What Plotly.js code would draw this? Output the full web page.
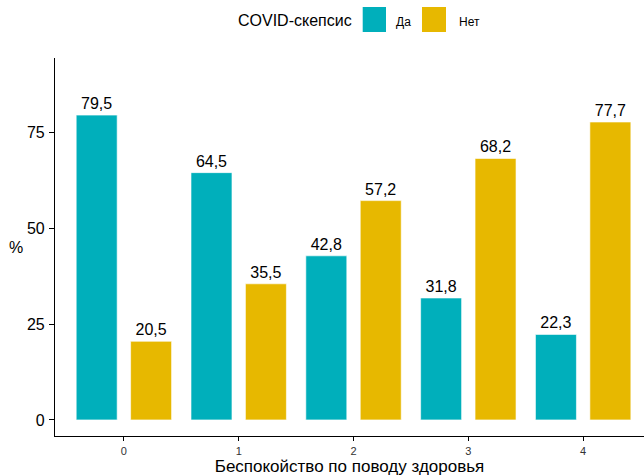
<!DOCTYPE html>
<html>
<head>
<meta charset="utf-8">
<script src="https://cdn.plot.ly/plotly-3.0.1.min.js"></script>
<style>
  html, body { margin: 0; padding: 0; background: #ffffff; }
  #chart { width: 644px; height: 476px; }
</style>
</head>
<body>
<div id="chart"></div>
<script>
// ---- data ----
const categories = [0, 1, 2, 3, 4];
const seriesNames = ["Да", "Нет"];
const valuesDa = [79.5, 64.5, 42.8, 31.8, 22.3];
const valuesNet = [20.5, 35.5, 57.2, 68.2, 77.7];
const seriesColors = ["#00AFBB", "#E7B800"];
const yTickVals = [0, 25, 50, 75];
const legendTitle = "COVID-скепсис";
const xTitle = "Беспокойство по поводу здоровья";
const yTitle = "%";

const W = 644, H = 476;
const M = { l: 55, r: 0, t: 58, b: 40 };
const pw = W - M.l - M.r, ph = H - M.t - M.b;
const px2x = (px) => (px - M.l) / pw;
const py2y = (py) => 1 - (py - M.t) / ph;

const fontFam = "Liberation Sans, Arial, sans-serif";
const seriesValues = [valuesDa, valuesNet];

const traces = seriesNames.map((name, i) => ({
  type: "bar",
  name: name,
  x: categories,
  y: seriesValues[i],
  marker: { color: seriesColors[i], line: { color: "#ffffff", width: 0.6 } },
  texttemplate: "%{y:.1f}",
  textposition: "outside",
  textfont: { family: fontFam, size: 16, color: "#000000" },
  cliponaxis: false,
  hoverinfo: "x+y+name",
  showlegend: false
}));

// manual legend (keys sized like the reference)
const keyBoxes = [[362.7, 386], [422, 446]];
const keyTextX = [394, 457];
const shapes = seriesNames.map((n, i) => ({
  type: "rect", xref: "paper", yref: "paper",
  x0: px2x(keyBoxes[i][0]), x1: px2x(keyBoxes[i][1]),
  y0: py2y(32), y1: py2y(7),
  fillcolor: seriesColors[i], line: { width: 0 }
}));
const annotations = [
  { xref: "paper", yref: "paper", x: px2x(354), y: py2y(21), xanchor: "right", yanchor: "middle",
    text: legendTitle, showarrow: false, font: { family: fontFam, size: 16, color: "#000000" } },
  // horizontal y-axis title, as in the reference
  { xref: "paper", yref: "paper", x: px2x(15.8), y: py2y(247), xanchor: "center", yanchor: "middle",
    text: yTitle, showarrow: false, font: { family: fontFam, size: 16, color: "#000000" } }
].concat(seriesNames.map((n, i) => ({
  xref: "paper", yref: "paper", x: px2x(keyTextX[i]), y: py2y(21.5), xanchor: "left", yanchor: "middle",
  text: n, showarrow: false, font: { family: fontFam, size: 12, color: "#000000" }
})));

const layout = {
  width: W, height: H,
  margin: M,
  paper_bgcolor: "#ffffff",
  plot_bgcolor: "#ffffff",
  separators: ", ",
  barmode: "group",
  bargap: 0.052,
  bargroupgap: 0.247,
  showlegend: false,
  font: { family: fontFam, color: "#000000" },
  xaxis: {
    range: [-0.6, 4.53],
    tickvals: categories,
    ticktext: categories.map(String),
    ticks: "outside", ticklen: 4, tickwidth: 1, tickcolor: "#000000",
    tickfont: { family: fontFam, size: 11, color: "#333333" },
    ticklabelstandoff: 1,
    showline: true, linecolor: "#000000", linewidth: 1.1,
    showgrid: false, zeroline: false, fixedrange: true,
    title: { text: xTitle, font: { family: fontFam, size: 17, color: "#000000" }, standoff: 6 }
  },
  yaxis: {
    range: [-4.2, 94.4],
    tickvals: yTickVals,
    ticks: "outside", ticklen: 5, tickwidth: 1, tickcolor: "#000000",
    tickfont: { family: fontFam, size: 16, color: "#000000" },
    ticklabelstandoff: 1,
    showline: true, linecolor: "#000000", linewidth: 1.1,
    showgrid: false, zeroline: false, fixedrange: true
  },
  shapes: shapes,
  annotations: annotations
};

Plotly.newPlot("chart", traces, layout, { displayModeBar: false, staticPlot: true });
</script>
</body>
</html>
